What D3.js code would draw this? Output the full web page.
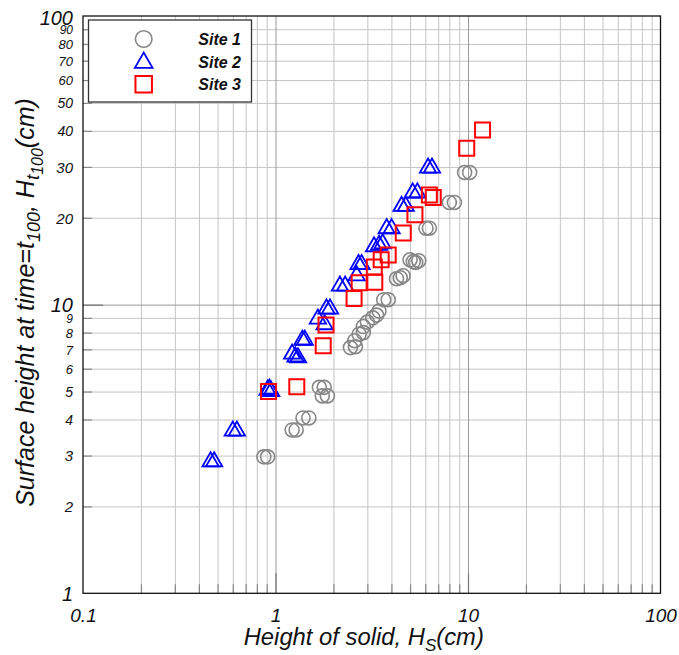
<!DOCTYPE html>
<html><head><meta charset="utf-8">
<script src="https://cdn.jsdelivr.net/npm/d3@7"></script>
<style>
body{margin:0;background:#fff;}
text{font-family:"Liberation Sans",Arial,sans-serif;}
</style></head>
<body><svg id="c" width="679" height="655"></svg>
<script>
// ---- data ----
const site1 = [[0.87,2.97],[0.91,2.97],[1.22,3.68],[1.28,3.68],[1.39,4.05],[1.49,4.05],
 [1.69,5.17],[1.79,5.17],[1.75,4.83],[1.86,4.83],[2.45,7.1],[2.6,7.15],[2.58,7.5],
 [2.72,7.9],[2.86,8.0],[2.86,8.4],[3.0,8.7],[3.2,9.0],[3.35,9.2],[3.45,9.5],
 [3.65,10.4],[3.85,10.4],[4.25,12.3],[4.45,12.4],[4.6,12.6],[5.0,14.3],[5.2,14.1],
 [5.35,14.0],[5.55,14.2],[6.05,18.4],[6.3,18.4],[8.0,22.6],[8.5,22.6],[9.6,28.7],[10.2,28.7]];
const site2 = [[0.46,2.88],[0.48,2.88],[0.60,3.68],[0.63,3.68],[0.91,5.1],[0.93,5.15],[0.95,5.05],
 [1.22,6.8],[1.27,6.65],[1.31,6.6],[1.38,7.6],[1.42,7.6],[1.66,9.0],[1.80,8.6],[1.84,9.75],
 [1.92,9.75],[2.16,11.7],[2.30,11.7],[2.64,12.7],[2.70,13.9],[2.80,13.9],[3.25,16.0],
 [3.45,16.2],[3.6,16.4],[3.78,18.5],[4.01,18.5],[4.52,22.1],[4.75,22.1],[5.16,24.6],
 [5.46,24.6],[6.2,30],[6.5,30]];
const site3 = [[0.92,5.0],[1.29,5.2],[1.77,7.2],[1.83,8.5],[2.56,10.5],[2.72,11.9],[3.28,11.95],
 [3.26,13.5],[3.54,14.3],[3.85,14.85],[4.61,17.7],[5.3,20.5],[6.3,24.0],[6.6,23.5],
 [9.85,34.8],[11.9,40.3]];
const seriesNames = ["Site 1","Site 2","Site 3"];
const xTickLabels = ["0.1","1","10","100"];
const xMajor = [0.1,1,10,100];
const yMajor = [1,10,100];
const yMinor = [2,3,4,5,6,7,8,9,20,30,40,50,60,70,80,90];
const xMinor = [0.2,0.3,0.4,0.5,0.6,0.7,0.8,0.9,2,3,4,5,6,7,8,9,20,30,40,50,60,70,80,90];

// ---- layout ----
const L=83, R=660.5, T=16, B=593.3;
const svg = d3.select("#c");
const x = d3.scaleLog().domain([0.1,100]).range([L,R]);
const y = d3.scaleLog().domain([1,100]).range([B,T]);

// grid
const grid = svg.append("g");
grid.append("g").attr("transform",`translate(0,${B})`)
  .call(d3.axisBottom(x).tickValues(xMinor).tickSize(-(B-T)).tickFormat(""))
  .call(g=>{g.select(".domain").remove(); g.selectAll("line").attr("stroke","#c4c4c4");});
grid.append("g").attr("transform",`translate(${L},0)`)
  .call(d3.axisLeft(y).tickValues(yMinor).tickSize(-(R-L)).tickFormat(""))
  .call(g=>{g.select(".domain").remove(); g.selectAll("line").attr("stroke","#c4c4c4");});
grid.append("g").attr("transform",`translate(0,${B})`)
  .call(d3.axisBottom(x).tickValues([1,10]).tickSize(-(B-T)).tickFormat(""))
  .call(g=>{g.select(".domain").remove(); g.selectAll("line").attr("stroke","#999");});
grid.append("g").attr("transform",`translate(${L},0)`)
  .call(d3.axisLeft(y).tickValues([10]).tickSize(-(R-L)).tickFormat(""))
  .call(g=>{g.select(".domain").remove(); g.selectAll("line").attr("stroke","#999");});

// inward ticks
function ticks(axis, tr, len, col){
  svg.append("g").attr("transform",tr).call(axis.tickSize(-len).tickFormat(""))
   .call(g=>{g.select(".domain").remove(); g.selectAll("line").attr("stroke",col).attr("stroke-width",1.2);});
}
ticks(d3.axisBottom(x).tickValues(xMinor), `translate(0,${B})`, 9, "#888");
ticks(d3.axisBottom(x).tickValues([1,10]), `translate(0,${B})`, 20, "#777");
ticks(d3.axisLeft(y).tickValues(yMinor), `translate(${L},0)`, 9, "#888");
ticks(d3.axisLeft(y).tickValues([10]), `translate(${L},0)`, 20, "#777");

// frame
svg.append("rect").attr("x",L).attr("y",T).attr("width",R-L).attr("height",B-T)
  .attr("fill","none").attr("stroke","#111").attr("stroke-width",1.3);

// x labels
svg.append("g").attr("transform",`translate(0,${B})`)
  .call(d3.axisBottom(x).tickValues(xMajor).tickSize(0).tickPadding(0).tickFormat((d,i)=>xTickLabels[i]))
  .call(g=>{g.select(".domain").remove();
    g.selectAll("text").attr("dy",null).attr("y",29).attr("font-size",19).attr("font-style","italic")
     .attr("fill","#111").attr("font-family","Liberation Sans, Arial, sans-serif");});
// y labels
svg.append("g").attr("transform",`translate(${L},0)`)
  .call(d3.axisLeft(y).tickValues(yMajor).tickSize(0).tickPadding(10).tickFormat(d3.format("d")))
  .call(g=>{g.select(".domain").remove();
    g.selectAll("text").attr("dy","0.36em").attr("font-size",20).attr("font-style","italic")
     .attr("fill","#111").attr("font-family","Liberation Sans, Arial, sans-serif");
    g.selectAll(".tick").filter(d=>d===100).select("text").attr("dy","0.42em");});
svg.append("g").attr("transform",`translate(${L},0)`)
  .call(d3.axisLeft(y).tickValues(yMinor).tickSize(0).tickPadding(10).tickFormat(d3.format("d")))
  .call(g=>{g.select(".domain").remove();
    g.selectAll("text").attr("dy","0.36em")
     .attr("font-size",d=>{const lead=+String(d)[0]; return lead<=3?15:(lead<=5?14:(lead<=8?13:12));})
     .attr("font-style","italic")
     .attr("fill","#111").attr("font-family","Liberation Sans, Arial, sans-serif");});

// axis titles
const xt = svg.append("text").attr("x",(L+R)/2 - 8).attr("y",645).attr("text-anchor","middle")
  .attr("font-size",23.8).attr("font-style","italic").attr("fill","#111");
xt.append("tspan").text("Height of solid, H");
xt.append("tspan").attr("dy",6).attr("font-size",17).text("S");
xt.append("tspan").attr("dy",-6).text("(cm)");

const yt = svg.append("text").attr("transform","rotate(-90)").attr("x",-302.5).attr("y",34)
  .attr("text-anchor","middle").attr("font-size",25).attr("font-style","italic").attr("fill","#111");
yt.append("tspan").text("Surface height at time=t");
yt.append("tspan").attr("dy",6).attr("font-size",18).text("100");
yt.append("tspan").attr("dy",-6).text(", H");
yt.append("tspan").attr("dy",5).attr("font-size",19).text("t");
yt.append("tspan").attr("dy",4).attr("font-size",16).text("100");
yt.append("tspan").attr("dy",-9).text("(cm)");

// markers
const triPath = d3.symbol().type(d3.symbolTriangle).size(115)();
const sqPath = d3.symbol().type(d3.symbolSquare).size(225)();
svg.append("g").selectAll("circle").data(site1).join("circle")
  .attr("cx",d=>x(d[0])).attr("cy",d=>y(d[1])).attr("r",7)
  .attr("fill","none").attr("stroke","#878787").attr("stroke-width",1.6);
svg.append("g").selectAll("path").data(site2).join("path")
  .attr("d",triPath).attr("transform",d=>`translate(${x(d[0])},${y(d[1])+1})`)
  .attr("fill","none").attr("stroke","#0000ff").attr("stroke-width",1.8);
svg.append("g").selectAll("path").data(site3).join("path")
  .attr("d",sqPath).attr("transform",d=>`translate(${x(d[0])},${y(d[1])})`)
  .attr("fill","none").attr("stroke","#ff0000").attr("stroke-width",2);

// legend
const lg = svg.append("g");
lg.append("rect").attr("x",88.5).attr("y",20).attr("width",163).attr("height",82)
  .attr("fill","#fff").attr("stroke","#333").attr("stroke-width",1.3);
const ly = [39,61.7,84.3];
lg.append("circle").attr("cx",143.7).attr("cy",ly[0]).attr("r",8.3)
  .attr("fill","none").attr("stroke","#878787").attr("stroke-width",1.6);
lg.append("path").attr("d",d3.symbol().type(d3.symbolTriangle).size(135)())
  .attr("transform",`translate(143.7,${ly[1]+1})`).attr("fill","none").attr("stroke","#0000ff").attr("stroke-width",1.8);
lg.append("path").attr("d",d3.symbol().type(d3.symbolSquare).size(272)())
  .attr("transform",`translate(143.7,${ly[2]})`).attr("fill","none").attr("stroke","#ff0000").attr("stroke-width",2);
lg.selectAll("text.lt").data(seriesNames).join("text").attr("class","lt")
  .attr("x",241).attr("y",(d,i)=>ly[i]+6).attr("text-anchor","end")
  .attr("font-size",16).attr("font-weight","bold").attr("font-style","italic").attr("fill","#111").text(d=>d);
</script></body></html>
